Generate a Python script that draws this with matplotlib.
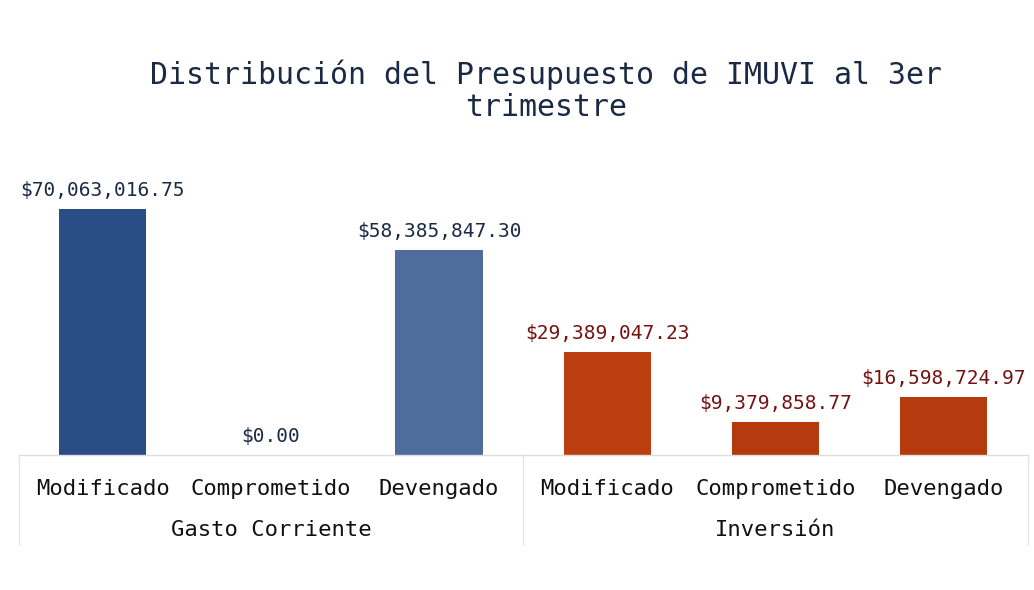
import matplotlib.pyplot as plt
import numpy as np

categories = ["Modificado", "Comprometido", "Devengado"]
groups = ["Gasto Corriente", "Inversión"]
gasto_corriente = [70063016.75, 0.00, 58385847.30]
inversion = [29389047.23, 9379858.77, 16598724.97]

BAR_COLORS = ["#2b4d85", "#2b4d85", "#4f6c9f", "#bb3f10", "#b53a0e", "#b53a0e"]
LABEL_COLORS = ["#1a2944", "#741212"]
FONT = "DejaVu Sans Mono"

fig = plt.figure(figsize=(10.34, 5.9), dpi=100)
ax = fig.add_axes([0.018, 0.229, 0.976, 0.517])

values = gasto_corriente + inversion
xs = np.arange(len(values))
ax.bar(xs, values, width=0.52, color=BAR_COLORS)

for k, v in enumerate(values):
    ax.text(xs[k], v + 2.6e6, f"${v:,.2f}", ha="center", va="bottom",
            fontsize=14, family=FONT, color=LABEL_COLORS[k // 3])

ax.set_xlim(-0.5, 5.5)
ax.set_ylim(0, 87e6)
ax.set_yticks([])
ax.set_xticks(xs)
ax.set_xticklabels(categories * 2, fontsize=16, family=FONT, color="#111111")
ax.tick_params(axis="x", length=0, pad=17)
for s in ["top", "right", "left"]:
    ax.spines[s].set_visible(False)
ax.spines["bottom"].set_color("#dddddd")
ax.spines["bottom"].set_linewidth(1.0)

# group labels and faint separators under the axis
for g, name in enumerate(groups):
    ax.text(g * 3 + 1, -0.245, name, transform=ax.get_xaxis_transform(),
            ha="center", va="center", fontsize=16, family=FONT, color="#111111")
for xsep in [-0.5, 2.5, 5.5]:
    ax.plot([xsep, xsep], [0, -0.295], transform=ax.get_xaxis_transform(),
            color="#e6e6e6", linewidth=1.0, clip_on=False)

fig.text(0.528, 0.846, "Distribución del Presupuesto de IMUVI al 3er\ntrimestre",
         ha="center", va="center", fontsize=21.5, family=FONT, color="#1a2944",
         linespacing=1.15)

fig.savefig("out.png", dpi=100)
